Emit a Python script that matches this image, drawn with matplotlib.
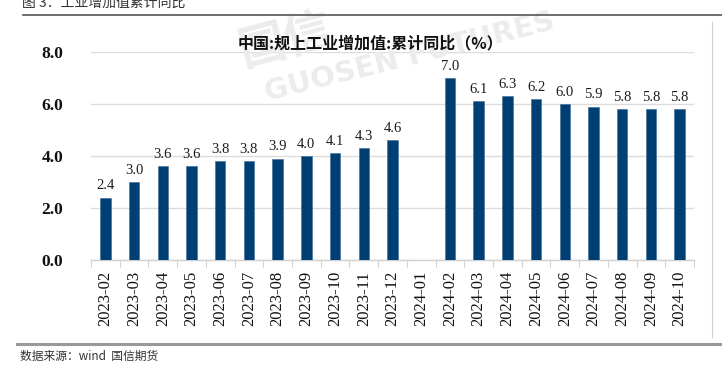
import matplotlib
matplotlib.use("Agg")
import matplotlib.pyplot as plt
import numpy as np
from matplotlib.lines import Line2D

categories = ["2023-02", "2023-03", "2023-04", "2023-05", "2023-06", "2023-07",
              "2023-08", "2023-09", "2023-10", "2023-11", "2023-12", "2024-01",
              "2024-02", "2024-03", "2024-04", "2024-05", "2024-06", "2024-07",
              "2024-08", "2024-09", "2024-10"]
values = [2.4, 3.0, 3.6, 3.6, 3.8, 3.8, 3.9, 4.0, 4.1, 4.3, 4.6, np.nan,
          7.0, 6.1, 6.3, 6.2, 6.0, 5.9, 5.8, 5.8, 5.8]
yticks = [0.0, 2.0, 4.0, 6.0, 8.0]
title = "中国:规上工业增加值:累计同比（%）"
header = "图 3：工业增加值累计同比"
footer = "数据来源：wind  国信期货"

W, H = 722, 369
fig = plt.figure(figsize=(W / 100, H / 100), dpi=100)
fig.patch.set_facecolor("white")

def fx(px):
    return px / W

def fy(py):
    return 1 - py / H

cjk = ["Noto Sans CJK SC", "DejaVu Sans"]
serif = ["Liberation Serif", "DejaVu Serif"]

# faint watermark
fig.text(fx(285), fy(40), "国信", fontsize=34, color="#ececec", family=cjk,
         rotation=15, ha="center", va="center", zorder=0, fontweight="bold")
fig.text(fx(410), fy(57), "GUOSEN FUTURES", fontsize=21, color="#ececec",
         family=["DejaVu Sans"], rotation=14, ha="center", va="center",
         zorder=0, fontweight="bold")

# header & lines
fig.text(fx(22), fy(7), header, fontsize=10, family=cjk, color="#333333",
         ha="left", va="baseline")
fig.add_artist(Line2D([fx(23), fx(722)], [fy(15), fy(15)], color="#555555",
                      lw=1.2, transform=fig.transFigure))
fig.add_artist(Line2D([fx(17), fx(722)], [fy(343.5), fy(343.5)],
                      color="#999999", lw=2.2, transform=fig.transFigure))
fig.add_artist(Line2D([fx(712), fx(712)], [fy(22), fy(337)],
                      color="#d0d0d0", lw=0.8, transform=fig.transFigure))
fig.text(fx(20), fy(356), footer, fontsize=8.5, family=cjk, color="#333333",
         ha="left", va="center")

ax = fig.add_axes([fx(91), fy(260), fx(694) - fx(91), fy(52) - fy(260)])
ax.set_facecolor("none")
x = np.arange(len(categories))
ax.bar(x, values, width=0.36, color="#003F73", edgecolor="#3a6a95",
       linewidth=0.4, zorder=3)
for xi, v in zip(x, values):
    if np.isnan(v):
        continue
    ax.text(xi, v + 0.2, f"{v:.1f}", ha="center", va="bottom", fontsize=10.5,
            family=serif, color="#1a1a1a")

ax.set_xlim(-0.5, len(categories) - 0.5)
ax.set_ylim(0, 8)
ax.set_yticks(yticks)
ax.set_yticklabels([f"{t:.1f}" for t in yticks], fontsize=12.5, family=serif,
                   color="#111111", fontweight="bold")
ax.tick_params(axis="y", length=0, pad=20)
ax.set_xticks(x)
ax.set_xticklabels(categories, rotation=90, fontsize=12, family=serif,
                   color="#111111")
ax.tick_params(axis="x", length=0, pad=8)
ax.set_xticks(np.arange(-0.5, len(categories), 1), minor=True)
ax.tick_params(axis="x", which="minor", length=5, color="#d0d0d0", width=0.8)
ax.yaxis.grid(True, color="#dcdcdc", lw=1, zorder=0)
for s in ["top", "right", "left"]:
    ax.spines[s].set_visible(False)
ax.spines["bottom"].set_color("#d0d0d0")
ax.spines["bottom"].set_linewidth(1)

fig.text(fx(370), fy(43), title, fontsize=11.5, family=cjk, fontweight="bold",
         color="#111111", ha="center", va="center")

fig.savefig("out.png", dpi=100)
